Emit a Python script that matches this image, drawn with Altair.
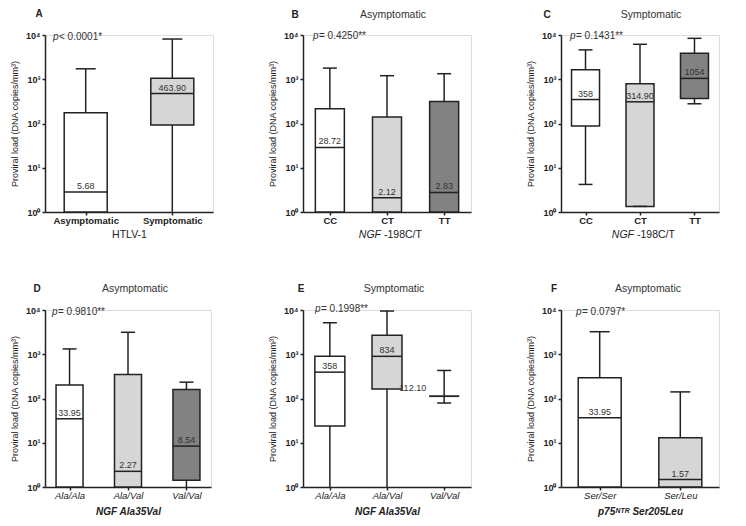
import altair as alt
import pandas as pd

FONT = "Liberation Sans"
INK = "#222222"
TXT = "#333333"
WHITE = "#ffffff"
LIGHT = "#d6d6d6"
DARK = "#828282"
H = 177

# ---------------- data ----------------
# Panel A: HTLV-1
a_cats = ["Asymptomatic", "Symptomatic"]
a_lo = [1, 1]
a_q1 = [1, 92.5]
a_med = [2.84, 475]
a_q3 = [176, 1058]
a_hi = [1722, 8110]
a_lab = ["5.68", "463.90"]

# Panel B: NGF -198C/T, asymptomatic
b_cats = ["CC", "CT", "TT"]
b_lo = [1, 1, 1]
b_q1 = [1, 1, 1]
b_med = [28.7, 2.1, 2.76]
b_q3 = [215, 140, 314]
b_hi = [1787, 1203, 1334]
b_lab = ["28.72", "2.12", "2.83"]

# Panel C: NGF -198C/T, symptomatic
c_cats = ["CC", "CT", "TT"]
c_lo = [4.2, 1.34, 279]
c_q1 = [88, 1.34, 367]
c_med = [348, 309, 1047]
c_q3 = [1640, 796, 3880]
c_hi = [4610, 6170, 8410]
c_lab = ["358", "314.90", "1054"]

# Panel D: NGF Ala35Val, asymptomatic
d_cats = ["Ala/Ala", "Ala/Val", "Val/Val"]
d_lo = [1, 1, 1]
d_q1 = [1, 1, 1.42]
d_med = [34.8, 2.26, 8.4]
d_q3 = [203, 348, 160]
d_hi = [1320, 3135, 234]
d_lab = ["33.95", "2.27", "8.54"]

# Panel E: NGF Ala35Val, symptomatic
e_cats = ["Ala/Ala", "Ala/Val", "Val/Val"]
e_lo = [1, 1, 79]
e_q1 = [24, 165, 112]
e_med = [394, 897, 112]
e_q3 = [897, 2700, 112]
e_hi = [5150, 9480, 430]
e_lab = ["358", "834", "112.10"]

# Panel F: p75NTR Ser205Leu, asymptomatic
f_cats = ["Ser/Ser", "Ser/Leu"]
f_lo = [1, 1]
f_q1 = [1, 1]
f_med = [36.5, 1.47]
f_q3 = [294, 12.9]
f_hi = [3230, 141]
f_lab = ["33.95", "1.57"]

SUPEXPR = "'10' + ['\u2070','\u00b9','\u00b2','\u00b3','\u2074'][round(log(datum.value)/LN10)]"


def panel(cfg):
    df = pd.DataFrame({
        "cat": cfg["cats"], "lo": cfg["lo"], "q1": cfg["q1"], "med": cfg["med"],
        "q3": cfg["q3"], "hi": cfg["hi"], "label": cfg["lab"],
        "left": [i in cfg.get("left_labels", []) for i in range(len(cfg["cats"]))],
    })
    w = cfg["w"]
    yscale = alt.Scale(type="log", domain=[1, 10000], nice=False)
    yaxis = alt.Axis(
        values=[1, 10, 100, 1000, 10000], labelExpr=SUPEXPR, grid=False,
        title="Proviral load (DNA copies/mm\u00b3)", titleFontSize=9, titleFontWeight="normal",
        titleColor=INK, titlePadding=6, labelFontSize=9, labelColor=INK, labelPadding=2,
        labelFontWeight="bold",
        tickSize=3, tickColor=INK, tickWidth=1.5, domainColor=INK, domainWidth=1.5,
    )

    def Y(field):
        return alt.Y(field, type="quantitative", scale=yscale, axis=yaxis)

    xaxis_kwargs = dict(
        labelAngle=0, labelFontSize=9.5, labelColor=INK, labelPadding=0,
        labelFontWeight=cfg["xlw"], labelFontStyle=cfg["xls"],
        tickSize=3, tickColor=INK, tickWidth=1.5, domainColor=INK, domainWidth=1.5,
        titleFontSize=cfg["xtf"], titleColor=INK, titleFontWeight=cfg["xtw"],
        titleFontStyle=cfg["xts"], titlePadding=cfg["xtp"], grid=False,
    )
    if cfg["xtitle"]:
        xaxis = alt.Axis(title=cfg["xtitle"], **xaxis_kwargs)
    else:
        xaxis = alt.Axis(title=None, **xaxis_kwargs)
    X = alt.X("cat:N", sort=cfg["cats"], scale=alt.Scale(type="point", padding=cfg["pad"]), axis=xaxis)

    base = alt.Chart(df)
    whisk = base.mark_rule(color=INK, strokeWidth=1.5).encode(x=X, y=Y("lo"), y2="hi")
    box = base.mark_bar(size=cfg["bw"], stroke=INK, strokeWidth=1.5, opacity=1).encode(
        x=X, y=Y("q1"), y2="q3",
        fill=alt.Fill("cat:N", scale=alt.Scale(domain=cfg["cats"], range=cfg["fills"]), legend=None),
    )
    med = base.mark_tick(size=cfg["bw"], thickness=1.5, color=INK, opacity=1,
                         orient="horizontal").encode(x=X, y=Y("med"))
    cap_hi = base.mark_tick(size=cfg["cw"], thickness=1.5, color=INK, opacity=1,
                            orient="horizontal").encode(x=X, y=Y("hi"))
    cap_lo = base.transform_filter("datum.lo > 1").mark_tick(
        size=cfg["cw"], thickness=1.5, color=INK, opacity=1, orient="horizontal").encode(x=X, y=Y("lo"))
    lab_c = base.transform_filter("!datum.left").mark_text(
        font=FONT, fontSize=9, color=TXT, baseline="bottom", dy=-1).encode(x=X, y=Y("med"), text="label:N")
    lab_l = base.transform_filter("datum.left").mark_text(
        font=FONT, fontSize=9, color=TXT, baseline="bottom", align="right", dx=-18, dy=-3).encode(
        x=X, y=Y("med"), text="label:N")

    layers = [whisk, box, med, cap_hi, cap_lo, lab_c, lab_l]

    ann = alt.Chart(pd.DataFrame({"p": ["p"], "rest": [cfg["pval"]], "letter": [cfg["letter"]],
                                  "sub": [cfg["subtitle"]]}))
    px, py = cfg["ppos"]
    layers.append(ann.mark_text(font=FONT, fontSize=10, fontStyle="italic", color=TXT, align="left",
                                baseline="middle").encode(x=alt.value(px), y=alt.value(py), text="p:N"))
    layers.append(ann.mark_text(font=FONT, fontSize=10, color=TXT, align="left",
                                baseline="middle").encode(x=alt.value(px + 6), y=alt.value(py), text="rest:N"))
    lx, ly = cfg["lpos"]
    layers.append(ann.mark_text(font=FONT, fontSize=10, fontWeight="bold", color=INK, align="center",
                                baseline="middle").encode(x=alt.value(lx), y=alt.value(ly), text="letter:N"))
    sx, sy = cfg["spos"]
    layers.append(ann.mark_text(font=FONT, fontSize=10.5, color=TXT, align="center",
                                baseline="middle").encode(x=alt.value(sx), y=alt.value(sy), text="sub:N"))
    if cfg.get("title_parts"):
        it, rg = cfg["title_parts"]
        tdf = alt.Chart(pd.DataFrame({"a": [it], "b": [rg]}))
        layers.append(tdf.mark_text(font=FONT, fontSize=10.5, fontStyle="italic", color=INK, align="right",
                                    baseline="middle").encode(x=alt.value(w / 2 - 6), y=alt.value(H + 23), text="a:N"))
        layers.append(tdf.mark_text(font=FONT, fontSize=10.5, color=INK, align="left",
                                    baseline="middle").encode(x=alt.value(w / 2 - 3), y=alt.value(H + 23), text="b:N"))

    return alt.layer(*layers).properties(width=w, height=H)


cfgs = [
    dict(letter="A", subtitle="", cats=a_cats, lo=a_lo, q1=a_q1, med=a_med, q3=a_q3, hi=a_hi, lab=a_lab,
         fills=[WHITE, LIGHT], pval="< 0.0001*", w=168, pad=0.47, bw=43, cw=20,
         xtitle="HTLV-1", xlw="bold", xls="normal", xtw="normal", xts="normal", xtf=10.5, xtp=5,
         ppos=(8, 2), lpos=(-6, -21), spos=(84, -21)),
    dict(letter="B", subtitle="Asymptomatic", cats=b_cats, lo=b_lo, q1=b_q1, med=b_med, q3=b_q3, hi=b_hi,
         lab=b_lab, fills=[WHITE, LIGHT, DARK], pval="= 0.4250**", w=168, pad=0.47, bw=29, cw=14,
         xtitle="", xlw="bold", xls="normal", xtw="normal", xts="normal", xtf=10.5, xtp=5,
         ppos=(10, 1), lpos=(-8, -20), spos=(90, -20), title_parts=("NGF", "-198C/T")),
    dict(letter="C", subtitle="Symptomatic", cats=c_cats, lo=c_lo, q1=c_q1, med=c_med, q3=c_q3, hi=c_hi,
         lab=c_lab, fills=[WHITE, LIGHT, DARK], pval="= 0.1431**", w=158, pad=0.45, bw=28, cw=14,
         xtitle="", xlw="bold", xls="normal", xtw="normal", xts="normal", xtf=10.5, xtp=5,
         ppos=(9, 1), lpos=(-14, -20), spos=(90, -20), title_parts=("NGF", "-198C/T")),
    dict(letter="D", subtitle="Asymptomatic", cats=d_cats, lo=d_lo, q1=d_q1, med=d_med, q3=d_q3, hi=d_hi,
         lab=d_lab, fills=[WHITE, LIGHT, DARK], pval="= 0.9810**", w=166, pad=0.42, bw=27, cw=14,
         xtitle="NGF Ala35Val", xlw="normal", xls="italic", xtw="bold", xts="italic", xtf=10, xtp=7,
         ppos=(7, 2), lpos=(-8, -21), spos=(90, -21)),
    dict(letter="E", subtitle="Symptomatic", cats=e_cats, lo=e_lo, q1=e_q1, med=e_med, q3=e_q3, hi=e_hi,
         lab=e_lab, fills=[WHITE, LIGHT, WHITE], pval="= 0.1998**", w=168, pad=0.47, bw=30, cw=14,
         xtitle="NGF Ala35Val", xlw="normal", xls="italic", xtw="bold", xts="italic", xtf=10, xtp=7,
         ppos=(12, -1), lpos=(-2, -21), spos=(91, -21), left_labels=[2]),
    dict(letter="F", subtitle="Asymptomatic", cats=f_cats, lo=f_lo, q1=f_q1, med=f_med, q3=f_q3, hi=f_hi,
         lab=f_lab, fills=[WHITE, LIGHT], pval="= 0.0797*", w=158, pad=0.48, bw=43, cw=20,
         xtitle="p75\u1d3a\u1d40\u1d3f Ser205Leu", xlw="normal", xls="italic", xtw="bold", xts="italic",
         xtf=10, xtp=7, ppos=(15, 2), lpos=(-7, -21), spos=(87, -21)),
]

charts = [panel(c) for c in cfgs]

chart = alt.concat(*charts, columns=3, spacing={"row": 98, "column": 90}, bounds="flush").resolve_scale(
    fill="independent", x="independent", y="independent"
).properties(
    padding={"left": 2, "top": 0, "right": 2, "bottom": 2}
).configure_view(stroke=None).configure(font=FONT)

chart.save("out.html", embed_options={"renderer": "svg", "actions": False})
